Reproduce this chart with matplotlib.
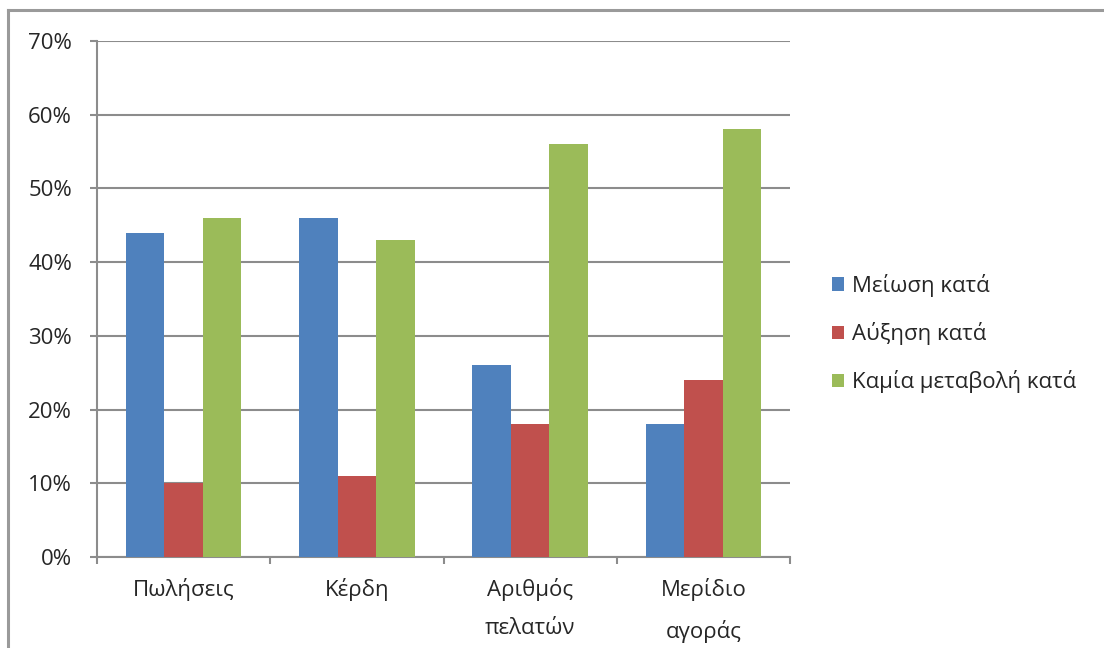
import matplotlib
matplotlib.use('Agg')
import matplotlib.pyplot as plt
from matplotlib.patches import Patch
from matplotlib.lines import Line2D
import numpy as np

plt.rcParams['font.family'] = ['Open Sans', 'DejaVu Sans']

categories = ['Πωλήσεις', 'Κέρδη', 'Αριθμός\nπελατών', 'Μερίδιο\nαγοράς']
meiosi = [44, 46, 26, 18]
auxisi = [10, 11, 18, 24]
kamia = [46, 43, 56, 58]
series_names = ['Μείωση κατά', 'Αύξηση κατά', 'Καμία μεταβολή κατά']
colors = ['#4F81BD', '#C0504D', '#9BBB59']
yticks = [0, 10, 20, 30, 40, 50, 60, 70]

grey = '#8c8c8c'
fs = 16

fig = plt.figure(figsize=(11.04, 6.48), dpi=100)
ax = fig.add_axes([97/1104, 1-557/648, 693/1104, 516/648])

x = np.arange(len(categories))
w = 1/4.5
for i, (vals, c) in enumerate(zip([meiosi, auxisi, kamia], colors)):
    ax.bar(x + (i-1)*w, vals, width=w, color=c, zorder=3)

ax.set_xlim(-0.5, len(categories)-0.5)
ax.set_ylim(0, 70)
ax.set_yticks(yticks)
ax.set_yticklabels([f'{v}%' for v in yticks], fontsize=fs, color='#262626')
ax.grid(axis='y', color=grey, linewidth=1.5, zorder=0)

# category boundaries carry the tick marks, labels sit at centres
ax.set_xticks(np.arange(len(categories)+1) - 0.5)
ax.set_xticklabels([])
ax.set_xticks(x, minor=True)
ax.set_xticklabels(categories, minor=True, fontsize=fs, color='#262626', linespacing=2.05)
ax.tick_params(axis='x', which='minor', length=0, pad=15)
ax.tick_params(axis='x', which='major', length=5, width=1.5, color=grey, direction='out')
ax.tick_params(axis='y', length=5, width=1.5, color=grey, direction='out', pad=13)

for s in ['top', 'right']:
    ax.spines[s].set_visible(False)
for s in ['left', 'bottom']:
    ax.spines[s].set_color(grey)
    ax.spines[s].set_linewidth(1.5)

handles = [Patch(facecolor=c, edgecolor='none') for c in colors]
fig.legend(handles, series_names, loc='upper left', bbox_to_anchor=(812/1104, 1-254/648),
           frameon=False, fontsize=fs, handlelength=0.55, handleheight=0.55,
           handletextpad=0.35, labelspacing=1.13, labelcolor='#262626')

# outer chart border
fig.add_artist(Line2D([8/1104, 8/1104], [0, 1-10/648], color='#9a9a9a', linewidth=2.2))
fig.add_artist(Line2D([8/1104, 1], [1-10/648, 1-10/648], color='#9a9a9a', linewidth=2.2))

fig.savefig('out.png', dpi=100)
